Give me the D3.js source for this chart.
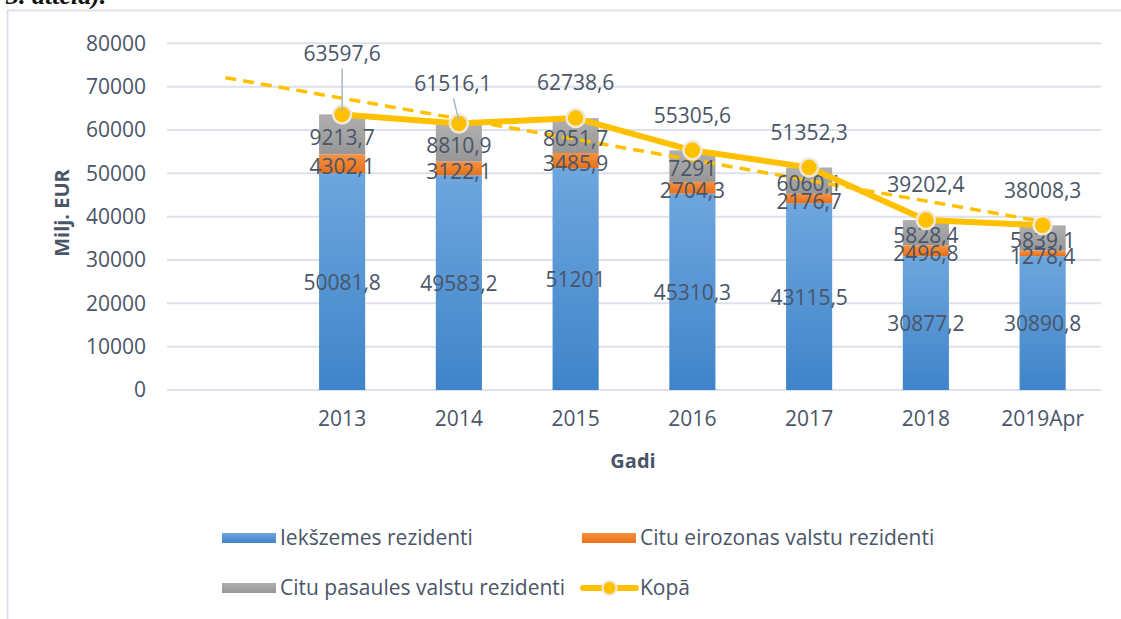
<!DOCTYPE html>
<html>
<head>
<meta charset="utf-8">
<script src="https://cdn.jsdelivr.net/npm/d3@7"></script>
<style>
  body { margin: 0; background: #fff; }
  text { font-family: "Open Sans", sans-serif; fill: #4a5568; }
</style>
</head>
<body>
<div id="chart"></div>
<script>
// first slot is empty in the original (trendline starts there)
var categories = ['', '2013', '2014', '2015', '2016', '2017', '2018', '2019Apr']
var iekszemes = [null, 50081.8, 49583.2, 51201, 45310.3, 43115.5, 30877.2, 30890.8]
var eirozonas = [null, 4302.1, 3122.1, 3485.9, 2704.3, 2176.7, 2496.8, 1278.4]
var pasaules = [null, 9213.7, 8810.9, 8051.7, 7291, 6060.1, 5828.4, 5839.1]
var kopa = [null, 63597.6, 61516.1, 62738.6, 55305.6, 51352.3, 39202.4, 38008.3]
// linear trendline end points
var trendCats = ['', '2019Apr']
var trendValues = [72070, 38880]
var yTicks = [0, 10000, 20000, 30000, 40000, 50000, 60000, 70000, 80000]

var W = 1121, H = 619
var fmt = v => String(v).replace('.', ',')

var svg = d3.select('#chart').append('svg')
    .attr('width', W)
    .attr('height', H)

var defs = svg.append('defs')
function grad(id, top, bottom) {
    var g = defs.append('linearGradient').attr('id', id)
        .attr('x1', 0).attr('y1', 0).attr('x2', 0).attr('y2', 1)
    g.append('stop').attr('offset', '0%').attr('stop-color', top)
    g.append('stop').attr('offset', '100%').attr('stop-color', bottom)
}
grad('gBlue', '#6ea6de', '#3f84c9')
grad('gOrange', '#f7923f', '#e8701c')
grad('gGray', '#b0b0b0', '#969696')

// frame + cut-off caption at top
svg.append('text').attr('x', 6).attr('y', 4)
    .style('font-family', '"Liberation Serif", serif')
    .style('font-style', 'italic').style('font-weight', 'bold')
    .style('font-size', '26px').style('fill', '#111')
    .text('3. attēla).')
svg.append('path')
    .attr('d', 'M7.5,' + H + 'V10.5H' + W)
    .attr('fill', 'none').attr('stroke', '#dde2ea').attr('stroke-width', 2)

var x = d3.scaleBand().domain(categories).range([167, 1101]).padding(0)
var y = d3.scaleLinear().domain([0, 80000]).range([390, 43.3])
var cx = c => x(c) + x.bandwidth() / 2
var bw = x.bandwidth() * 0.395

// gridlines
svg.append('g').selectAll('line').data(yTicks).join('line')
    .attr('x1', 167).attr('x2', 1101)
    .attr('y1', d => y(d)).attr('y2', d => y(d))
    .attr('stroke', '#dde2ea').attr('stroke-width', 2)

var yAxis = svg.append('g').attr('transform', 'translate(167,0)')
    .call(d3.axisLeft(y).tickValues(yTicks).tickSize(0).tickPadding(21).tickFormat(d => d))
yAxis.select('.domain').remove()
yAxis.selectAll('text').style('font-size', '21px').style('fill', '#4a5568')
    .style('font-family', '"Open Sans", sans-serif')

var xAxis = svg.append('g').attr('transform', 'translate(0,390)')
    .call(d3.axisBottom(x).tickSize(0).tickPadding(21))
xAxis.select('.domain').remove()
xAxis.selectAll('text').style('font-size', '21px').style('fill', '#4a5568')
    .style('font-family', '"Open Sans", sans-serif')

// stacked bars
var rows = categories.map((c, i) => ({ c: c, a: iekszemes[i], b: eirozonas[i], g: pasaules[i] }))
    .filter(d => d.a != null)
var series = [
    { key: 'a', fill: 'url(#gBlue)' },
    { key: 'b', fill: 'url(#gOrange)' },
    { key: 'g', fill: 'url(#gGray)' }
]
var stack = d3.stack().keys(['a', 'b', 'g'])(rows)
stack.forEach((layer, li) => {
    svg.append('g').selectAll('rect').data(layer).join('rect')
        .attr('x', d => cx(d.data.c) - bw / 2)
        .attr('width', bw)
        .attr('y', d => y(d[1]))
        .attr('height', d => y(d[0]) - y(d[1]))
        .attr('fill', series[li].fill)
})

// trendline
var trend = trendCats.map((c, i) => [cx(c), y(trendValues[i])])
svg.append('path').attr('d', d3.line()(trend))
    .attr('fill', 'none').attr('stroke', '#ffc000')
    .attr('stroke-width', 3.5).attr('stroke-dasharray', '11,7')

// segment labels
stack.forEach((layer, li) => {
    svg.append('g').selectAll('text').data(layer).join('text')
        .attr('x', d => cx(d.data.c))
        .attr('y', d => (y(d[0]) + y(d[1])) / 2 + (li === 0 ? 1 : 3))
        .attr('dy', '0.35em')
        .attr('text-anchor', 'middle')
        .style('font-size', '21px')
        .text(d => fmt(d.data[series[li].key]))
})

// total line
var pts = categories.map((c, i) => ({ c: c, v: kopa[i] })).filter(d => d.v != null)
svg.append('path')
    .attr('d', d3.line().x(d => cx(d.c)).y(d => y(d.v))(pts))
    .attr('fill', 'none').attr('stroke', '#ffc000').attr('stroke-width', 6)
    .attr('stroke-linejoin', 'round')
svg.append('g').selectAll('circle').data(pts).join('circle')
    .attr('cx', d => cx(d.c)).attr('cy', d => y(d.v)).attr('r', 9)
    .attr('fill', '#ffc000').attr('stroke', '#efe9dc').attr('stroke-width', 2.5)

// total labels (two of them moved up with a leader line)
var moved = { '2013': { dx: 0, dy: -61 }, '2014': { dx: -6, dy: -40 } }
pts.forEach(d => {
    var m = moved[d.c] || { dx: 0, dy: -35 }
    var px = cx(d.c), py = y(d.v)
    if (moved[d.c]) {
        svg.append('line')
            .attr('x1', px + m.dx * 0.9).attr('y1', py + m.dy + 15)
            .attr('x2', px).attr('y2', py - 3)
            .attr('stroke', '#a9b6c8').attr('stroke-width', 1.5)
    }
    svg.append('text')
        .attr('x', px + m.dx).attr('y', py + m.dy)
        .attr('dy', '0.35em').attr('text-anchor', 'middle')
        .style('font-size', '21px')
        .text(fmt(d.v))
})

// axis titles
svg.append('text')
    .attr('transform', 'translate(62,213) rotate(-90)')
    .attr('text-anchor', 'middle').attr('dy', '0.35em')
    .style('font-size', '20px').style('font-weight', 'bold')
    .text('Milj. EUR')
svg.append('text')
    .attr('x', 633).attr('y', 461).attr('dy', '0.35em')
    .attr('text-anchor', 'middle')
    .style('font-size', '20px').style('font-weight', 'bold')
    .text('Gadi')

// legend
var legend = [
    { name: 'Iekšzemes rezidenti', fill: 'url(#gBlue)', x: 222, y: 538 },
    { name: 'Citu eirozonas valstu rezidenti', fill: 'url(#gOrange)', x: 582, y: 538 },
    { name: 'Citu pasaules valstu rezidenti', fill: 'url(#gGray)', x: 222, y: 588 },
    { name: 'Kopā', line: true, x: 582, y: 588 }
]
legend.forEach(l => {
    var g = svg.append('g').attr('transform', 'translate(' + l.x + ',' + l.y + ')')
    if (l.line) {
        g.append('line').attr('x1', 1).attr('x2', 54)
            .attr('stroke', '#ffc000').attr('stroke-width', 6).attr('stroke-linecap', 'round')
        g.append('circle').attr('cx', 27.5).attr('r', 7)
            .attr('fill', '#ffc000').attr('stroke', '#efe9dc').attr('stroke-width', 2)
    } else {
        g.append('rect').attr('x', 0).attr('y', -5).attr('width', 54).attr('height', 10)
            .attr('fill', l.fill)
    }
    g.append('text').attr('x', 58).attr('dy', '0.35em')
        .style('font-size', '21px')
        .text(l.name)
})
</script>
</body>
</html>
